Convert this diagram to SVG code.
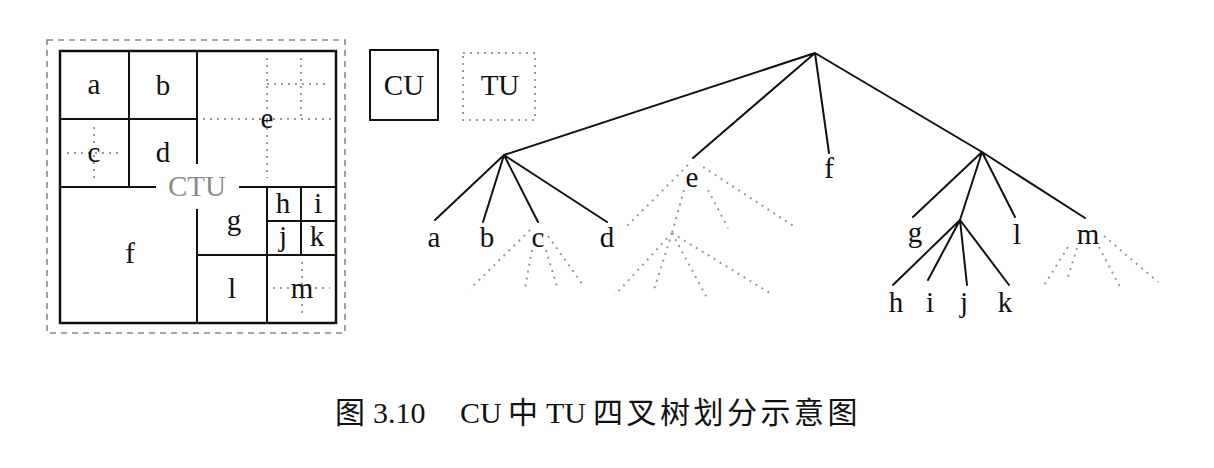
<svg xmlns="http://www.w3.org/2000/svg" width="1214" height="468" viewBox="0 0 1214 468">
<style>
.solid{stroke:#111;stroke-width:2;fill:none;stroke-linecap:square}
.frame{stroke:#111;stroke-width:2.5;fill:none}
.dot{stroke:#999;stroke-width:2;fill:none;stroke-dasharray:2 5}
.dash{stroke:#888;stroke-width:1.6;fill:none;stroke-dasharray:6 5}
.edge{stroke:#111;stroke-width:2;fill:none;stroke-linecap:round}
.lbl{font-family:"Liberation Serif","Times New Roman",serif;font-size:29px;fill:#111;text-anchor:middle}
.ctu{font-family:"Liberation Serif","Times New Roman",serif;font-size:29px;fill:#8a8a8a;text-anchor:middle}
.cap{font-family:"Liberation Serif","Noto Sans CJK SC",serif;font-size:30px;fill:#111}
</style>
<rect width="1214" height="468" fill="#fff"/>

<!-- CTU partition -->
<g id="ctu">
  <rect class="dash" x="47" y="40" width="298" height="293"/>
  <rect class="frame" x="60" y="51" width="276" height="272"/>
  <path class="solid" d="M197 51V163M197 210V323M60 187H155M240 187H336M129 51V187M60 119H197M267 187V323M197 255H336M301 187V255M267 221H336"/>
  <path class="dot" d="M67 153H123M94 127V178M267 58V178M203 119H333M301 58V119M267 84H330M273 288H330M302 262V317"/>
  <text class="ctu" x="197" y="196">CTU</text>
  <text class="lbl" x="94" y="94">a</text>
  <text class="lbl" x="163" y="95">b</text>
  <text class="lbl" x="94" y="162">c</text>
  <text class="lbl" x="163" y="162">d</text>
  <text class="lbl" x="267" y="128">e</text>
  <text class="lbl" x="130" y="263">f</text>
  <text class="lbl" x="234" y="230">g</text>
  <text class="lbl" x="283" y="213">h</text>
  <text class="lbl" x="318" y="213">i</text>
  <text class="lbl" x="283" y="246">j</text>
  <text class="lbl" x="317" y="246">k</text>
  <text class="lbl" x="232" y="298">l</text>
  <text class="lbl" x="302" y="298">m</text>
</g>

<!-- legend -->
<g id="legend-cu">
  <rect class="solid" x="370" y="50" width="68" height="70"/>
  <text class="lbl" x="404" y="95">CU</text>
</g>
<g id="legend-tu">
  <rect class="dot" x="463" y="53" width="72" height="67"/>
  <text class="lbl" x="500" y="95">TU</text>
</g>

<!-- connectors -->
<g id="connectors">
  <path class="edge" d="M815 53L504 155M815 53L693 158M815 53L829 153M815 53L982 152"/>
  <path class="edge" d="M504 155L435 220M504 155L483 222M504 155L538 222M504 155L607 222"/>
  <path class="edge" d="M982 152L913 217M982 152L960 220M982 152L1015 217M982 152L1085 218"/>
  <path class="edge" d="M960 220L893 285M960 220L928 280M960 220L967 285M960 220L1009 285"/>
  <path class="dot" d="M530 230L470 289M532 250L525 288M546 250L558 290M548 236L583 285"/>
  <path class="dot" d="M688 165L625 228M684 190L672 233M708 190L728 228M703 167L795 227"/>
  <path class="dot" d="M672 233L615 295M672 233L653 293M672 233L707 298M672 233L773 295"/>
  <path class="dot" d="M1068 247L1043 287M1077 248L1067 280M1099 247L1120 287M1104 236L1158 282"/>
</g>

<!-- tree nodes -->
<g id="node-a"><text class="lbl" x="434" y="247">a</text></g>
<g id="node-b"><text class="lbl" x="487" y="247">b</text></g>
<g id="node-c"><text class="lbl" x="538" y="247">c</text></g>
<g id="node-d"><text class="lbl" x="607" y="247">d</text></g>
<g id="node-e"><text class="lbl" x="692" y="187">e</text></g>
<g id="node-f"><text class="lbl" x="829" y="178">f</text></g>
<g id="node-g"><text class="lbl" x="915" y="242">g</text></g>
<g id="node-l"><text class="lbl" x="1017" y="244">l</text></g>
<g id="node-m"><text class="lbl" x="1088" y="244">m</text></g>
<g id="node-h"><text class="lbl" x="896" y="312">h</text></g>
<g id="node-i"><text class="lbl" x="930" y="312">i</text></g>
<g id="node-j"><text class="lbl" x="964" y="312">j</text></g>
<g id="node-k"><text class="lbl" x="1005" y="312">k</text></g>

<!-- caption -->
<text class="cap" y="423"><tspan x="335">图</tspan><tspan x="373">3.10</tspan><tspan x="460">CU</tspan><tspan x="508">中</tspan><tspan x="546">TU</tspan><tspan x="593" letter-spacing="3.5">四叉树划分示意图</tspan></text>
</svg>
